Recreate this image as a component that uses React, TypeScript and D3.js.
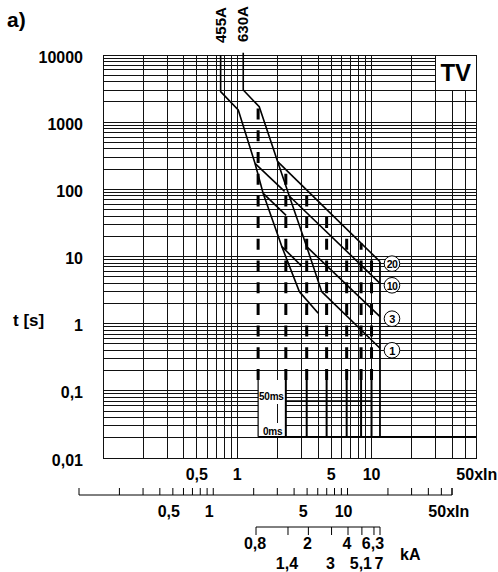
import React from 'react';
import * as d3 from 'd3';

// ---- data ----
const timeTickValues = [0.01, 0.1, 1, 10, 100, 1000, 10000];
const timeTickLabels = ['0,01', '0,1', '1', '10', '100', '1000', '10000'];
const inTickValues = [0.5, 1, 5, 10, 50];
const inTickLabels = ['0,5', '1', '5', '10', '50xIn'];
const kaTickValues = [0.8, 1.4, 2, 3, 4, 5.1, 6.3, 7];
const kaTickLabels = ['0,8', '1,4', '2', '3', '4', '5,1', '6,3', '7'];

// long-time curves (x in multiples of In, t in s)
const curve455x = [0.752, 0.752, 1.017, 1.355, 1.56, 2.15, 2.9];
const curve455t = [10000, 2845, 1517, 244, 87, 14, 3.0];
const curve630x = [1.108, 1.108, 1.458, 2.0, 2.44, 3.29, 4.25];
const curve630t = [10800, 3013, 1698, 258, 79.6, 14, 3.0];

// short-time (I²t) settings
const settings = ['20', '10', '3', '1'];
const i2t630EndX = [11.56, 11.56, 11.56, 11.56];
const i2t630EndT = [8.38, 3.99, 1.27, 0.43];
const i2t455EndX = [2.25, 2.31, 3.02, 4.01];
const i2t455EndT = [93, 41, 7.2, 1.43];

// dashed selectivity lines (x in multiples of In)
const dashedX = [1.43, 2.3, 3.29, 4.63, 6.53, 8.36, 10.0];
const dashedBottomT = 0.145;
const limitX = 11.56;
const delay50T = 0.0706;
const delay0T = 0.0207;

const FONT = "'Liberation Sans', Arial, Helvetica, sans-serif";

export default function App() {
  const x = d3.scaleLog().domain([0.1, 60]).range([103, 476]);
  const y = d3.scaleLog().domain([0.01, 10000]).range([458, 55]);
  const x2 = d3.scaleLog().domain([0.1, 60]).range([79, 452]);
  const xk = d3.scaleLog().domain([0.8, 7]).range([256, 380]);

  const line = d3
    .line<[number, number]>()
    .x((d) => x(d[0]))
    .y((d) => y(d[1]));

  // grid values
  const xGrid: number[] = [];
  for (let p = -1; p <= 1; p++) for (let k = 1; k <= 9; k++) {
    const v = k * Math.pow(10, p);
    if (v > 0.1 && v < 60) xGrid.push(v);
  }
  const yGrid: number[] = [];
  for (let p = -2; p <= 3; p++) for (let k = 1; k <= 9; k++) {
    const v = k * Math.pow(10, p);
    if (v > 0.01 && v < 10000) yGrid.push(v);
  }
  const x2Ticks: number[] = [];
  for (let p = -1; p <= 1; p++) for (let k = 1; k <= 9; k++) {
    const v = k * Math.pow(10, p);
    if (v >= 0.1 && v <= 60) x2Ticks.push(v);
  }
  x2Ticks.push(60);

  const c455: [number, number][] = curve455x.map((v, i) => [v, curve455t[i]]);
  const c630: [number, number][] = curve630x.map((v, i) => [v, curve630t[i]]);

  // upper envelope (630A curve then setting 20 line) for dashed line tops
  const env: [number, number][] = [...c630.slice(0, 4), [i2t630EndX[0], i2t630EndT[0]]];
  const envAt = (v: number) => {
    for (let i = 0; i < env.length - 1; i++) {
      const [a, ta] = env[i];
      const [b, tb] = env[i + 1];
      if (v >= a && v <= b && b > a) {
        const f = (Math.log(v) - Math.log(a)) / (Math.log(b) - Math.log(a));
        return Math.exp(Math.log(ta) + f * (Math.log(tb) - Math.log(ta)));
      }
    }
    return env[env.length - 1][1];
  };

  const left = x(0.1), right = x(60), top = y(10000), bottom = y(0.01);
  const boxL = x(dashedX[0]), boxR = x(dashedX[1]);
  const boxT = y(dashedBottomT), boxB = y(delay0T);

  return (
    <svg
      width={498}
      height={572}
      style={{ position: 'absolute', left: 0, top: 0, background: '#fff' }}
      fontFamily={FONT}
      fontWeight="bold"
    >
      <rect x={0} y={0} width={498} height={572} fill="#fff" />
      {/* grid */}
      <g stroke="#111" strokeWidth={1} shapeRendering="crispEdges">
        {xGrid.map((v) => (
          <line key={'gx' + v} x1={x(v)} x2={x(v)} y1={top} y2={bottom} />
        ))}
        {yGrid.map((v) => (
          <line key={'gy' + v} x1={left} x2={right} y1={y(v)} y2={y(v)} />
        ))}
        <rect x={left} y={top} width={right - left} height={bottom - top} fill="none" />
      </g>

      {/* TV box (hides grid) */}
      <rect x={x(30)} y={top} width={right - x(30)} height={y(3000) - top} fill="#fff" stroke="#111" strokeWidth={1} shapeRendering="crispEdges" />
      <text x={(x(30) + right) / 2} y={(top + y(3000)) / 2 + 8.5} textAnchor="middle" fontSize={24}>TV</text>

      {/* delay scale box */}
      <rect x={boxL} y={boxT} width={boxR - boxL} height={boxB - boxT} fill="#fff" />
      <line x1={x(2)} x2={x(2)} y1={boxT + 24} y2={boxB - 14} stroke="#111" strokeWidth={1} shapeRendering="crispEdges" />
      <text x={boxL + 1} y={y(delay50T) - 1} fontSize={10} letterSpacing={-0.3}>50ms</text>
      <text x={boxL + 5} y={boxB - 2} fontSize={10} letterSpacing={-0.3}>0ms</text>

      {/* long-time curves */}
      <path d={line(c455) || ''} fill="none" stroke="#000" strokeWidth={1.6} />
      <path d={line(c630) || ''} fill="none" stroke="#000" strokeWidth={1.6} />
      {settings.map((s, i) => (
        <g key={'s' + s}>
          <path d={line([c630[3 + i], [i2t630EndX[i], i2t630EndT[i]]]) || ''} fill="none" stroke="#000" strokeWidth={1.6} />
          <path d={line([c455[3 + i], [i2t455EndX[i], i2t455EndT[i]]]) || ''} fill="none" stroke="#000" strokeWidth={1.6} />
        </g>
      ))}

      {/* dashed selectivity lines */}
      {dashedX.map((v) => (
        <g key={'d' + v}>
          <line x1={x(v)} x2={x(v)} y1={y(dashedBottomT)} y2={y(envAt(v))} stroke="#000" strokeWidth={3} strokeDasharray="11 10.7" />
          <line x1={x(v)} x2={x(v)} y1={y(dashedBottomT)} y2={y(delay0T)} stroke="#000" strokeWidth={v === dashedX[0] ? 1.2 : 2} />
        </g>
      ))}
      <line x1={x(limitX)} x2={x(limitX)} y1={y(i2t630EndT[0])} y2={y(delay0T)} stroke="#000" strokeWidth={1.8} />
      <line x1={boxR} x2={x(dashedX[dashedX.length - 1])} y1={y(delay50T)} y2={y(delay50T)} stroke="#000" strokeWidth={1.6} />
      <line x1={boxL} x2={right} y1={y(delay0T)} y2={y(delay0T)} stroke="#000" strokeWidth={1.8} />

      {/* setting circles */}
      {settings.map((s, i) => (
        <g key={'c' + s}>
          <circle cx={x(limitX) + 12} cy={y(i2t630EndT[i]) + 2} r={7.8} fill="#fff" stroke="#000" strokeWidth={1} />
          <text x={x(limitX) + 12} y={y(i2t630EndT[i]) + 2.5} textAnchor="middle" dominantBaseline="central" fontSize={s.length > 1 ? 10.5 : 11} letterSpacing={-0.6}>{s}</text>
        </g>
      ))}

      {/* rating labels */}
      <text transform={`translate(${x(curve455x[0]) + 5},43) rotate(-90)`} fontSize={15}>455A</text>
      <text transform={`translate(${x(curve630x[0]) + 4.5},42) rotate(-90)`} fontSize={15}>630A</text>

      {/* title */}
      <text x={7} y={27} fontSize={21}>a)</text>

      {/* y axis labels */}
      {timeTickValues.map((v, i) => (
        <text key={'yl' + v} x={83} y={y(v) + 2} textAnchor="end" dominantBaseline="central" fontSize={16}>{timeTickLabels[i]}</text>
      ))}
      <text x={13} y={326} fontSize={17}>t [s]</text>

      {/* x axis row 1 */}
      {inTickValues.map((v, i) => (
        <text key={'x1' + v} x={i === inTickValues.length - 1 ? x(v) - 9 : x(v)} y={480} textAnchor={i === inTickValues.length - 1 ? 'start' : 'middle'} fontSize={16}>{inTickLabels[i]}</text>
      ))}

      {/* x axis row 2 */}
      <g stroke="#000" strokeWidth={1}>
        <line x1={x2(0.1)} x2={x2(60)} y1={495} y2={495} />
        {x2Ticks.map((v) => (
          <line key={'t2' + v} x1={x2(v)} x2={x2(v)} y1={495} y2={488} />
        ))}
      </g>
      {inTickValues.map((v, i) => (
        <text key={'x2' + v} x={i === inTickValues.length - 1 ? x2(v) - 13 : x2(v) - 4} y={517} textAnchor={i === inTickValues.length - 1 ? 'start' : 'middle'} fontSize={16}>{inTickLabels[i]}</text>
      ))}

      {/* kA axis */}
      <g stroke="#000" strokeWidth={1}>
        <line x1={xk(0.8)} x2={xk(7)} y1={527} y2={527} />
        {kaTickValues.map((v) => (
          <line key={'tk' + v} x1={xk(v)} x2={xk(v)} y1={527} y2={535} />
        ))}
      </g>
      {kaTickValues.map((v, i) => (
        <text key={'kl' + v} x={xk(v) - 1} y={i % 2 === 0 ? 549 : 569} textAnchor="middle" fontSize={16}>{kaTickLabels[i]}</text>
      ))}
      <text x={400} y={560} fontSize={16}>kA</text>
    </svg>
  );
}
